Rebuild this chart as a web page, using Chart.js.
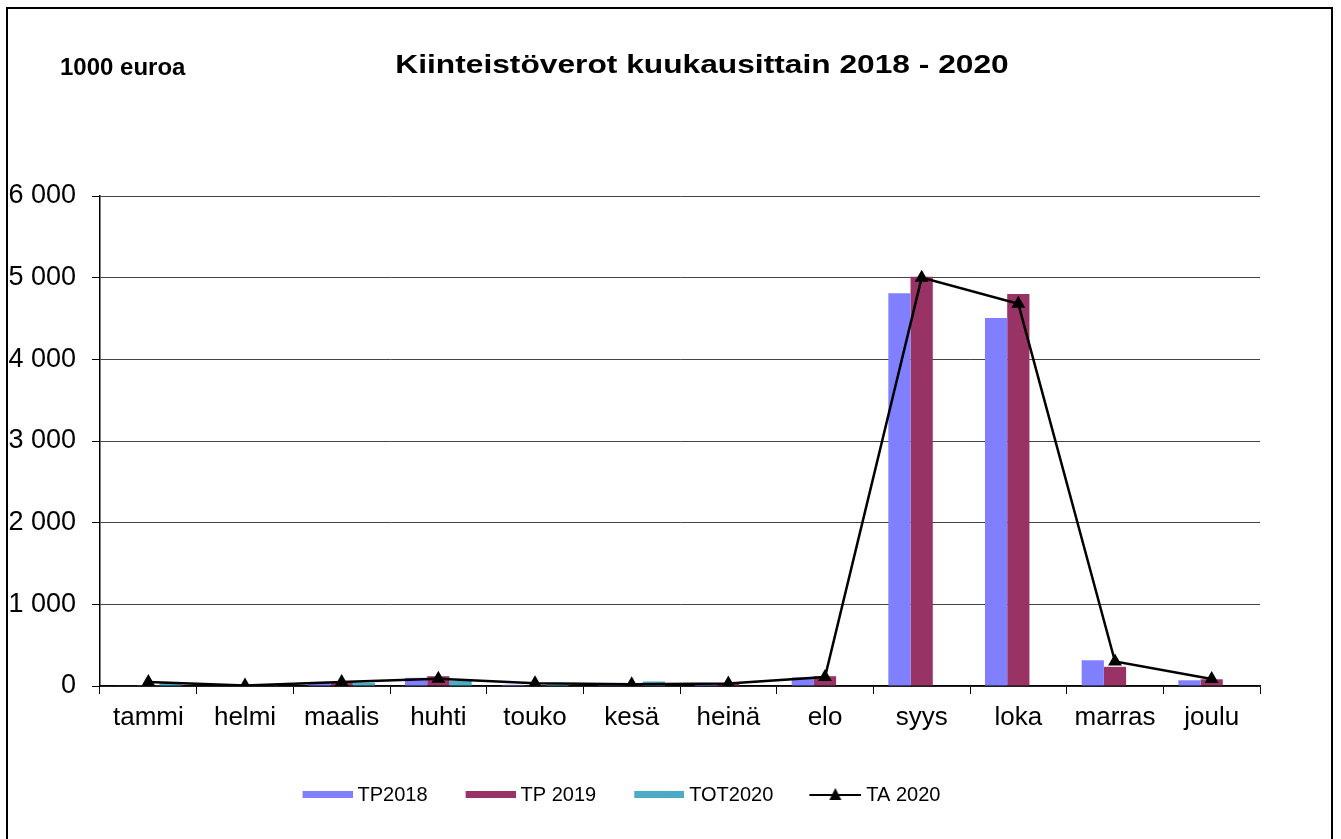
<!DOCTYPE html>
<html>
<head>
<meta charset="utf-8">
<script src="https://cdn.jsdelivr.net/npm/chart.js@4/dist/chart.umd.min.js"></script>
<style>
  html, body { margin: 0; padding: 0; background: #fff; }
  #wrap { width: 1341px; height: 839px; position: relative; }
</style>
</head>
<body>
<div id="wrap"><canvas id="chart" width="1341" height="839"></canvas></div>
<script>
// --- data ---
const months = ['tammi', 'helmi', 'maalis', 'huhti', 'touko', 'kesä', 'heinä', 'elo', 'syys', 'loka', 'marras', 'joulu'];
const tp2018 = [5, 5, 50, 100, 15, 10, 20, 105, 4810, 4505, 315, 70];
const tp2019 = [12, 5, 40, 120, 10, 10, 25, 120, 5010, 4800, 235, 82];
const tot2020 = [35, 20, 40, 65, 20, 55, 0, 0, 0, 0, 0, 0];
const ta2020 = [50, 5, 50, 90, 35, 20, 30, 110, 5000, 4680, 300, 85];
const yTicks = [0, 1000, 2000, 3000, 4000, 5000, 6000];

const FONT = "'Liberation Sans', Arial, sans-serif";

// small canvases used as legend symbols (left part is empty spacing)
function barSymbol(color) {
    const c = document.createElement('canvas');
    c.width = 64; c.height = 8;
    const g = c.getContext('2d');
    g.fillStyle = color;
    g.fillRect(14, 0, 50, 7);
    return c;
}
function lineSymbol() {
    const c = document.createElement('canvas');
    c.width = 64; c.height = 16;
    const g = c.getContext('2d');
    g.strokeStyle = '#000'; g.lineWidth = 2;
    g.beginPath(); g.moveTo(12, 8); g.lineTo(64, 8); g.stroke();
    g.fillStyle = '#000';
    g.beginPath(); g.moveTo(38, 1); g.lineTo(44, 13); g.lineTo(32, 13); g.closePath(); g.fill();
    return c;
}
const symbols = [barSymbol('#8080ff'), barSymbol('#993366'), barSymbol('#4bacc6'), lineSymbol()];

// frame + titles drawn on the canvas
const decorations = {
    id: 'decorations',
    afterLayout(chart) {
        // nudge the legend a little to the left
        if (chart.legend) { chart.legend.left -= 13; chart.legend.right -= 13; }
    },
    afterDraw(chart) {
        const ctx = chart.ctx;
        ctx.save();
        ctx.strokeStyle = '#000';
        ctx.lineWidth = 2;
        ctx.strokeRect(7, 8, 1325, 850);
        ctx.fillStyle = '#000';
        ctx.textBaseline = 'middle';
        ctx.font = 'bold 26px ' + FONT;
        ctx.textAlign = 'center';
        ctx.save();
        ctx.translate(702, 66);
        ctx.scale(1.22, 1);
        ctx.fillText('Kiinteistöverot kuukausittain 2018 - 2020', 0, 0);
        ctx.restore();
        ctx.font = 'bold 24px ' + FONT;
        ctx.textAlign = 'left';
        ctx.fillText('1000 euroa', 60, 68);
        ctx.restore();
    }
};

new Chart(document.getElementById('chart'), {
    type: 'bar',
    data: {
        labels: months,
        datasets: [
            { label: 'TP2018', data: tp2018, backgroundColor: '#8080ff', order: 1 },
            { label: 'TP 2019', data: tp2019, backgroundColor: '#993366', order: 1 },
            { label: 'TOT2020', data: tot2020, backgroundColor: '#4bacc6', order: 1 },
            {
                label: 'TA 2020', data: ta2020, type: 'line', order: 0,
                borderColor: '#000', backgroundColor: '#000', borderWidth: 2.5,
                pointStyle: 'triangle', pointRadius: 8, pointBackgroundColor: '#000',
                pointBorderWidth: 0, tension: 0
            }
        ]
    },
    options: {
        responsive: false,
        animation: false,
        layout: { padding: { top: 196, right: 81, left: 0, bottom: 24 } },
        datasets: { bar: { categoryPercentage: 0.69, barPercentage: 1.0 } },
        scales: {
            x: {
                grid: { drawOnChartArea: false, drawTicks: true, tickLength: 8, color: '#000', offset: true },
                border: { color: '#000', width: 1.5 },
                ticks: { color: '#000', font: { family: FONT, size: 26 }, padding: 8, maxRotation: 0 },
                afterFit(scale) { scale.height = 70; }
            },
            y: {
                min: 0, max: 6000,
                afterBuildTicks(scale) { scale.ticks = yTicks.map(v => ({ value: v })); },
                grid: {
                    color: '#444', lineWidth: 1, borderDash: [3, 2], tickLength: 8,
                    tickColor: '#000', tickBorderDash: []
                },
                border: { color: '#000', width: 1.5 },
                ticks: {
                    color: '#000', font: { family: FONT, size: 27 }, padding: 16,
                    callback: v => String(v).replace(/\B(?=(\d{3})+(?!\d))/g, ' ')
                },
                afterFit(scale) { scale.width = 100; }
            }
        },
        plugins: {
            legend: {
                position: 'bottom',
                labels: {
                    color: '#000',
                    font: { family: FONT, size: 20 },
                    usePointStyle: true,
                    pointStyleWidth: 54,
                    boxHeight: 16,
                    padding: 29,
                    sort: (a, b) => a.datasetIndex - b.datasetIndex,
                    generateLabels(chart) {
                        const items = Chart.defaults.plugins.legend.labels.generateLabels(chart);
                        items.forEach(it => { it.pointStyle = symbols[it.datasetIndex]; });
                        return items;
                    }
                }
            },
            tooltip: { enabled: false }
        }
    },
    plugins: [decorations]
});
</script>
</body>
</html>
